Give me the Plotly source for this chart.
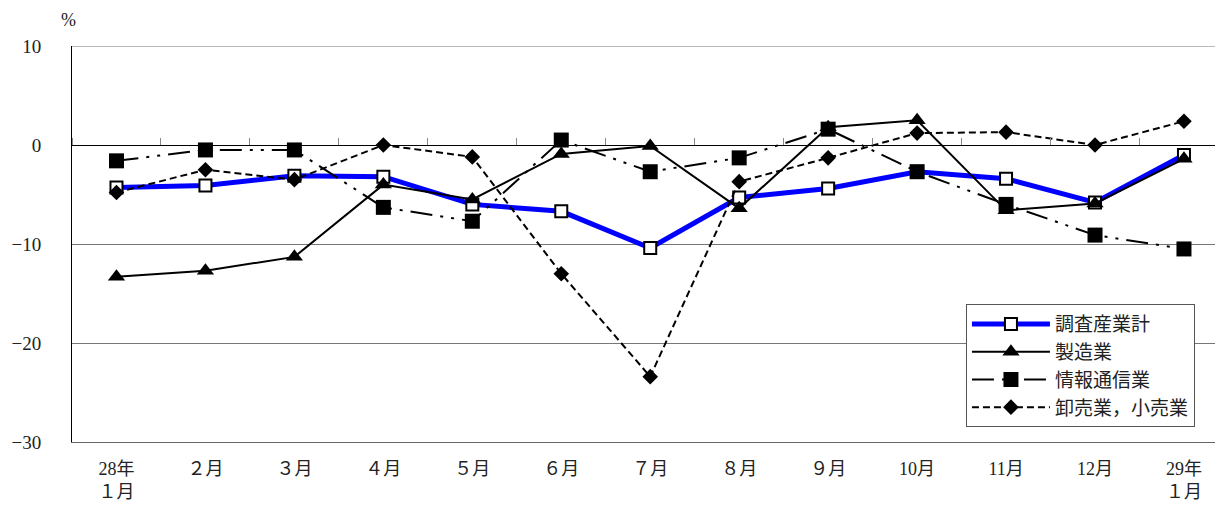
import plotly.graph_objects as go

categories = ["28年<br>１月", "２月", "３月", "４月", "５月", "６月", "７月", "８月", "９月", "10月", "11月", "12月", "29年<br>１月"]
total = [-4.3, -4.1, -3.1, -3.2, -6.0, -6.7, -10.4, -5.3, -4.4, -2.7, -3.4, -5.8, -1.0]
manufacturing = [-13.3, -12.7, -11.3, -4.0, -5.5, -0.9, -0.1, -6.4, 1.8, 2.5, -6.6, -5.9, -1.4]
info_comm = [-1.6, -0.5, -0.5, -6.3, -7.7, 0.5, -2.7, -1.3, 1.6, -2.7, -6.0, -9.1, -10.5]
retail = [-4.8, -2.5, -3.5, 0.0, -1.2, -13.0, -23.4, -3.7, -1.3, 1.2, 1.3, 0.0, 2.4]
y_ticks = [10, 0, -10, -20, -30]
y_ticktext = ["10", "0", "−10", "−20", "−30"]

FONT = "Liberation Serif, DejaVu Serif, Noto Sans CJK JP, serif"

fig = go.Figure()
fig.add_trace(go.Scatter(x=categories, y=total, name="調査産業計", mode="lines+markers",
                         line=dict(color="#0000ff", width=5),
                         marker=dict(symbol="square", size=12, color="white",
                                     line=dict(color="black", width=2))))
fig.add_trace(go.Scatter(x=categories, y=manufacturing, name="製造業", mode="lines+markers",
                         line=dict(color="black", width=2),
                         marker=dict(symbol="triangle-up", size=15, color="black")))
fig.add_trace(go.Scatter(x=categories, y=info_comm, name="情報通信業", mode="lines+markers",
                         line=dict(color="black", width=2, dash="22px,8px,3px,8px,3px,8px"),
                         marker=dict(symbol="square", size=15, color="black")))
fig.add_trace(go.Scatter(x=categories, y=retail, name="卸売業，小売業", mode="lines+markers",
                         line=dict(color="black", width=2, dash="7px,4px"),
                         marker=dict(symbol="diamond", size=12, color="black")))
# invisible trace for the zero-line tick axis
fig.add_trace(go.Scatter(x=categories, y=[None]*len(categories), xaxis="x2",
                         showlegend=False, hoverinfo="skip", mode="lines"))

fig.update_layout(
    width=1216, height=502,
    margin=dict(l=64, r=0, t=38, b=68),
    paper_bgcolor="white", plot_bgcolor="white",
    font=dict(family=FONT, size=17, color="#222"),
    showlegend=True,
    legend=dict(x=0.776, y=0.348, xanchor="left", yanchor="top",
                bordercolor="#555", borderwidth=1, bgcolor="white",
                itemwidth=78,
                font=dict(size=19, family=FONT), tracegroupgap=4),
    xaxis=dict(type="category", categoryarray=categories, range=[-0.5, 12.45],
               showline=True, linecolor="#666", linewidth=1, mirror=False,
               showgrid=False, ticks="", tickfont=dict(size=18, family=FONT),
               ticklabelstandoff=10, fixedrange=True),
    xaxis2=dict(type="category", categoryarray=categories, matches="x", overlaying="x",
                anchor="free", position=0.75, side="top", showline=True,
                linecolor="black", linewidth=1, ticks="outside", tickson="boundaries",
                ticklen=7, tickcolor="#888", showticklabels=False, showgrid=False),
    yaxis=dict(range=[-30, 10], tickvals=y_ticks, ticktext=y_ticktext,
               showline=True, linecolor="black", linewidth=1,
               showgrid=True, gridcolor="#777", gridwidth=1, zeroline=False,
               ticks="", ticklabelstandoff=26, tickfont=dict(size=19, family=FONT)),
    shapes=[dict(type="line", xref="paper", yref="y", x0=0, x1=1, y0=10, y1=10,
                 line=dict(color="#777", width=1))],
    annotations=[dict(text="%", xref="paper", yref="paper", x=-0.003, y=1.035,
                      xanchor="center", yanchor="bottom", showarrow=False,
                      font=dict(size=18, family=FONT))],
)

fig.write_html("out.html")
